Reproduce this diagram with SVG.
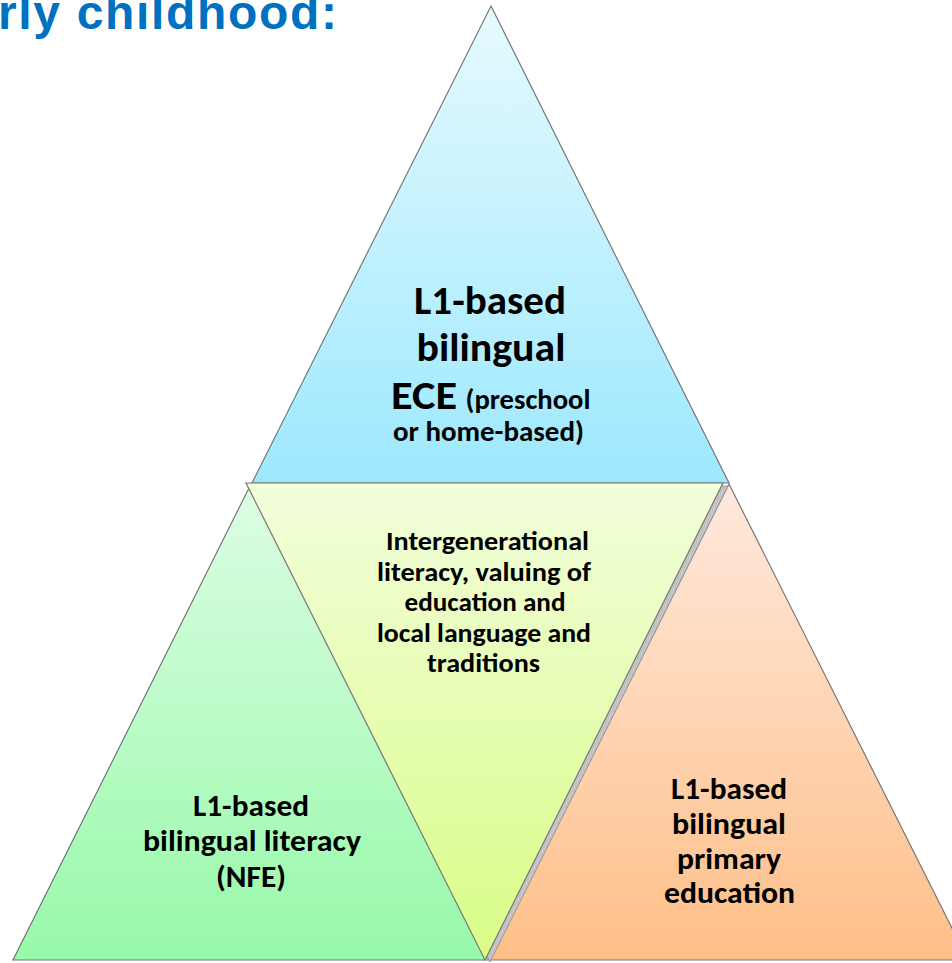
<svg xmlns="http://www.w3.org/2000/svg" width="952" height="963" viewBox="0 0 952 963">
  <defs>
    <linearGradient id="gTop" x1="0" y1="0" x2="0" y2="1">
      <stop offset="0" stop-color="#e6faff"/>
      <stop offset="1" stop-color="#9de8fe"/>
    </linearGradient>
    <linearGradient id="gLeft" x1="0" y1="0" x2="0" y2="1">
      <stop offset="0" stop-color="#ddfde4"/>
      <stop offset="1" stop-color="#97f9a9"/>
    </linearGradient>
    <linearGradient id="gMid" x1="0" y1="0" x2="0" y2="1">
      <stop offset="0" stop-color="#f2fddb"/>
      <stop offset="1" stop-color="#d9fd86"/>
    </linearGradient>
    <linearGradient id="gRight" x1="0" y1="0" x2="0" y2="1">
      <stop offset="0" stop-color="#fee9dd"/>
      <stop offset="1" stop-color="#febf88"/>
    </linearGradient>
  </defs>
  <style>
    .tri { stroke: #777777; stroke-width: 1.2; stroke-linejoin: miter; }
    .shadow { fill: #c4c4c4; stroke: #9a9a9a; stroke-width: 1; }
    .lbl { font-family: Carlito, Lato, "Liberation Sans", sans-serif; font-weight: bold; fill: #000000; text-anchor: middle; }
    .big { font-size: 40px; }
    .mid { font-size: 27px; }
    .side { font-size: 31px; }
    .title { font-family: "Liberation Sans", Arial, sans-serif; font-weight: bold; font-size: 48px; fill: #0070c0; }
  </style>

  <text class="title" x="-2" y="29" textLength="339" lengthAdjust="spacing">rly childhood:</text>

  <g id="node-top">
    <polygon class="tri" fill="url(#gTop)" points="491,6 729,483 252,483"/>
    <text class="lbl big" x="490" y="314" textLength="152" lengthAdjust="spacingAndGlyphs">L1-based</text>
    <text class="lbl big" x="491" y="361" textLength="149" lengthAdjust="spacingAndGlyphs">bilingual</text>
    <text class="lbl big" x="424" y="409" textLength="66" lengthAdjust="spacingAndGlyphs">ECE</text>
    <text class="lbl" x="528" y="409" font-size="28" textLength="125" lengthAdjust="spacingAndGlyphs">(preschool</text>
    <text class="lbl" x="488.5" y="441" font-size="28" textLength="191" lengthAdjust="spacingAndGlyphs">or home-based)</text>
  </g>

  <g id="node-left">
    <polygon class="tri" fill="url(#gLeft)" points="251,484 489,960 13,960"/>
    <text class="lbl side" x="251" y="816" textLength="116" lengthAdjust="spacingAndGlyphs">L1-based</text>
    <text class="lbl side" x="252" y="851" textLength="218" lengthAdjust="spacingAndGlyphs">bilingual literacy</text>
    <text class="lbl side" x="251" y="887" textLength="70" lengthAdjust="spacingAndGlyphs">(NFE)</text>
  </g>

  <g id="node-right">
    <polygon class="tri" fill="url(#gRight)" points="729,484 968,960 490,960"/>
    <text class="lbl side" x="729" y="799" textLength="116" lengthAdjust="spacingAndGlyphs">L1-based</text>
    <text class="lbl side" x="729" y="834" textLength="114" lengthAdjust="spacingAndGlyphs">bilingual</text>
    <text class="lbl side" x="729" y="869" textLength="104" lengthAdjust="spacingAndGlyphs">primary</text>
    <text class="lbl side" x="729.5" y="903" textLength="131" lengthAdjust="spacingAndGlyphs">education</text>
  </g>

  <g id="node-middle">
    <polygon class="shadow" points="251,486 728,486 490,962"/>
    <polygon class="tri" fill="url(#gMid)" points="246,483 723,483 485,960"/>
    <text class="lbl mid" x="487.5" y="550" textLength="203" lengthAdjust="spacingAndGlyphs">Intergenerational</text>
    <text class="lbl mid" x="484" y="580.5" textLength="214" lengthAdjust="spacingAndGlyphs">literacy, valuing of</text>
    <text class="lbl mid" x="485" y="611" textLength="161" lengthAdjust="spacingAndGlyphs">education and</text>
    <text class="lbl mid" x="484" y="641.5" textLength="214" lengthAdjust="spacingAndGlyphs">local language and</text>
    <text class="lbl mid" x="483.5" y="672" textLength="113" lengthAdjust="spacingAndGlyphs">traditions</text>
  </g>

  <g id="connectors"></g>
</svg>
